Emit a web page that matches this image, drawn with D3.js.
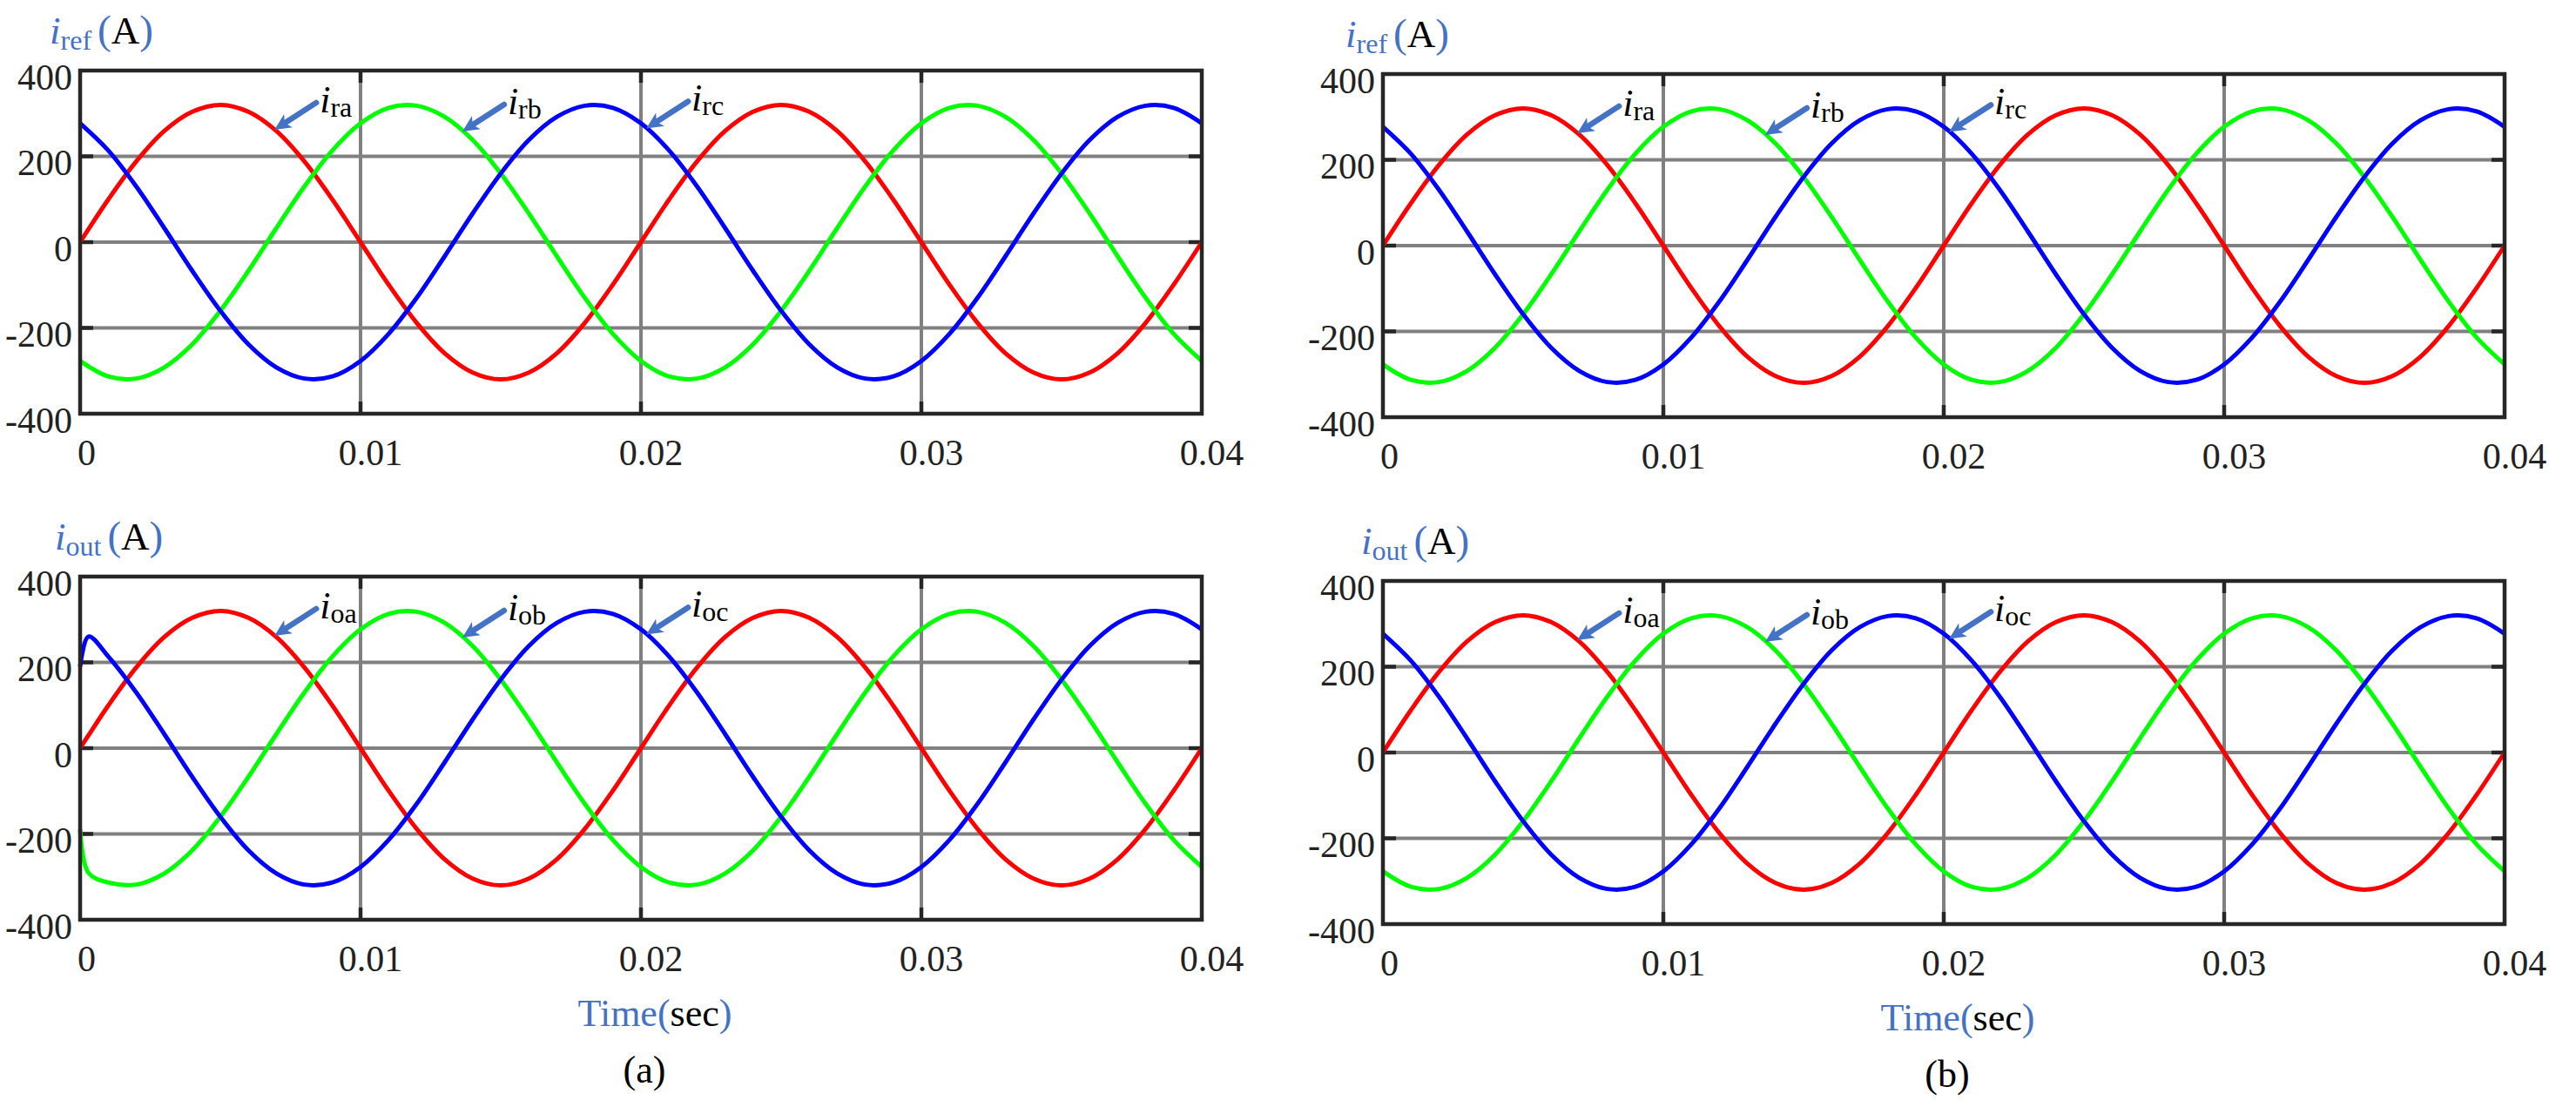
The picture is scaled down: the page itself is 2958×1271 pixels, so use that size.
<!DOCTYPE html>
<html>
<head>
<meta charset="utf-8">
<script src="https://cdn.jsdelivr.net/npm/d3@7"></script>
<style>
  body { margin: 0; background: #fff; }
  svg { display: block; background: #fff; }
  text { font-family: "Liberation Serif", "Times New Roman", serif; }
</style>
</head>
<body>
<svg id="canvas" width="2958" height="1271"></svg>
<script>
// sample times in ms (axis shows seconds)
const timeMs = [0,1,2,3,4,5,6,7,8,9,10,11,12,13,14,15,16,17,18,19,20,21,22,23,24,25,26,27,28,29,30,31,32,33,34,35,36,37,38,39,40];

// reference currents (A)
const refA = [0,99,188,259,304,320,304,259,188,99,0,-99,-188,-259,-304,-320,-304,-259,-188,-99,0,99,188,259,304,320,304,259,188,99,0,-99,-188,-259,-304,-320,-304,-259,-188,-99,0];
const refB = [-277,-313,-318,-292,-238,-160,-67,33,130,214,277,313,318,292,238,160,67,-33,-130,-214,-277,-313,-318,-292,-238,-160,-67,33,130,214,277,313,318,292,238,160,67,-33,-130,-214,-277];
const refC = [277,214,130,33,-67,-160,-238,-292,-318,-313,-277,-214,-130,-33,67,160,238,292,318,313,277,214,130,33,-67,-160,-238,-292,-318,-313,-277,-214,-130,-33,67,160,238,292,318,313,277];

// output currents of case (a): start-up step in the first 0.3 ms
const timeOutMs = [0,0.3,1,2,3,4,5,6,7,8,9,10,11,12,13,14,15,16,17,18,19,20,21,22,23,24,25,26,27,28,29,30,31,32,33,34,35,36,37,38,39,40];
const outA = [0,30,99,188,259,304,320,304,259,188,99,0,-99,-188,-259,-304,-320,-304,-259,-188,-99,0,99,188,259,304,320,304,259,188,99,0,-99,-188,-259,-304,-320,-304,-259,-188,-99,0];
const outB = [-190,-291,-313,-318,-292,-238,-160,-67,33,130,214,277,313,318,292,238,160,67,-33,-130,-214,-277,-313,-318,-292,-238,-160,-67,33,130,214,277,313,318,292,238,160,67,-33,-130,-214,-277];
const outC = [190,260,214,130,33,-67,-160,-238,-292,-318,-313,-277,-214,-130,-33,67,160,238,292,318,313,277,214,130,33,-67,-160,-238,-292,-318,-313,-277,-214,-130,-33,67,160,238,292,318,313,277];

const yTicks = [-400, -200, 0, 200, 400];
const yTickLabels = ['-400', '-200', '0', '200', '400'];
const yGrid = [-200, 0, 200];
const xTicks = [0, 10, 20, 30, 40];
const xGrid = [10, 20, 30];
const xTickLabels = ['0', '0.01', '0.02', '0.03', '0.04'];

const refNames = ['ra', 'rb', 'rc'];
const outNames = ['oa', 'ob', 'oc'];
const arrowTimesMs = [6.93, 13.63, 20.19];

const svg = d3.select('#canvas');
const accent = '#4472C4';
const ink = '#262626';
const serif = 'Liberation Serif, Times New Roman, serif';
const lineColors = ['#ff0000', '#00ff00', '#0000ff'];
const panelWidth = 1288;

const panels = [
  { left: 92, top: 81, bottom: 475, times: timeMs, series: [refA, refB, refC], sub: 'ref', names: refNames, titleDx: -35, caption: null },
  { left: 92, top: 662, bottom: 1056, times: timeOutMs, series: [outA, outB, outC], sub: 'out', names: outNames, titleDx: -29, caption: '(a)' },
  { left: 1588, top: 85, bottom: 479, times: timeMs, series: [refA, refB, refC], sub: 'ref', names: refNames, titleDx: -43, caption: null },
  { left: 1588, top: 667, bottom: 1061, times: timeMs, series: [refA, refB, refC], sub: 'out', names: outNames, titleDx: -25, caption: '(b)' }
];

const valueAt = (times, vals, t) => {
  const i = Math.min(d3.bisectRight(times, t) - 1, times.length - 2);
  const f = (t - times[i]) / (times[i + 1] - times[i]);
  return vals[i] + f * (vals[i + 1] - vals[i]);
};

const drawPanel = (p) => {
  const right = p.left + panelWidth;
  const x = d3.scaleLinear().domain([0, 40]).range([p.left, right]);
  const y = d3.scaleLinear().domain([-400, 400]).range([p.bottom, p.top]);
  const g = svg.append('g');

  // grid
  g.selectAll('.hgrid').data(yGrid).enter().append('line')
    .attr('x1', p.left).attr('x2', right)
    .attr('y1', (d) => y(d)).attr('y2', (d) => y(d))
    .attr('stroke', '#808080').attr('stroke-width', 4);
  g.selectAll('.vgrid').data(xGrid).enter().append('line')
    .attr('x1', (d) => x(d)).attr('x2', (d) => x(d))
    .attr('y1', p.top).attr('y2', p.bottom)
    .attr('stroke', '#808080').attr('stroke-width', 4);

  // short black ticks on the frame
  [[p.left, p.left + 15], [right - 15, right]].forEach(([a, b]) => {
    g.selectAll(null).data(yGrid).enter().append('line')
      .attr('x1', a).attr('x2', b)
      .attr('y1', (d) => y(d)).attr('y2', (d) => y(d))
      .attr('stroke', ink).attr('stroke-width', 4.5);
  });
  [[p.top, p.top + 14], [p.bottom - 14, p.bottom]].forEach(([a, b]) => {
    g.selectAll(null).data(xGrid).enter().append('line')
      .attr('x1', (d) => x(d)).attr('x2', (d) => x(d))
      .attr('y1', a).attr('y2', b)
      .attr('stroke', ink).attr('stroke-width', 4.5);
  });

  // curves
  const line = d3.line()
    .x((d) => x(d[0]))
    .y((d) => y(d[1]))
    .curve(d3.curveCatmullRom.alpha(0.5));
  p.series.forEach((vals, k) => {
    g.append('path')
      .datum(p.times.map((t, i) => [t, vals[i]]))
      .attr('d', line)
      .attr('fill', 'none')
      .attr('stroke', lineColors[k])
      .attr('stroke-width', 5)
      .attr('stroke-linejoin', 'round');
  });

  // frame
  g.append('rect')
    .attr('x', p.left).attr('y', p.top)
    .attr('width', panelWidth).attr('height', p.bottom - p.top)
    .attr('fill', 'none').attr('stroke', ink).attr('stroke-width', 4.5);

  // axes labels
  const yAxis = g.append('g')
    .attr('transform', `translate(${p.left},0)`)
    .call(d3.axisLeft(y).tickValues(yTicks).tickFormat((d, i) => yTickLabels[i]).tickSize(0).tickPadding(9))
    .attr('font-family', serif)
    .attr('font-size', 42);
  yAxis.select('.domain').remove();
  yAxis.selectAll('text')
    .attr('dy', '0.5em')
    .attr('font-family', serif)
    .style('font-family', serif)
    .attr('fill', '#222');

  const xAxis = g.append('g')
    .attr('transform', `translate(0,${p.bottom})`)
    .call(d3.axisBottom(x).tickValues(xTicks).tickFormat((d, i) => xTickLabels[i]).tickSize(0).tickPadding(29))
    .attr('font-family', serif)
    .attr('font-size', 42);
  xAxis.select('.domain').remove();
  xAxis.selectAll('text')
    .attr('dx', (d) => (d === 0 ? 7 : 11))
    .attr('font-family', serif)
    .style('font-family', serif)
    .attr('fill', '#222');

  // panel title
  const title = g.append('text')
    .attr('x', p.left + p.titleDx)
    .attr('y', p.top - 31)
    .attr('fill', accent)
    .style('font-size', '45px');
  title.append('tspan').attr('font-style', 'italic').text('i');
  title.append('tspan').attr('dy', 7).style('font-size', '32px').text(p.sub);
  title.append('tspan').attr('dy', -7).attr('dx', 7).style('font-size', '47px').text('(');
  title.append('tspan').attr('fill', '#000').text('A');
  title.append('tspan').style('font-size', '47px').text(')');

  // arrows pointing to the phases
  arrowTimesMs.forEach((tm, k) => {
    const tx = x(tm);
    const ty = y(valueAt(p.times, p.series[k], tm));
    const ax = tx + 48;
    const ay = ty - 31;
    const len = Math.hypot(ax - tx, ay - ty);
    const ux = (tx - ax) / len;
    const uy = (ty - ay) / len;
    const bx = tx - ux * 19;
    const by = ty - uy * 19;
    g.append('line')
      .attr('x1', ax).attr('y1', ay).attr('x2', bx + ux * 3).attr('y2', by + uy * 3)
      .attr('stroke', accent).attr('stroke-width', 6.5).attr('stroke-linecap', 'round');
    g.append('path')
      .attr('d', `M${tx},${ty}L${bx - uy * 9},${by + ux * 9}L${bx + ux * 5},${by + uy * 5}L${bx + uy * 9},${by - ux * 9}Z`)
      .attr('fill', accent);
    const lab = g.append('text')
      .attr('x', ax + 4).attr('y', ay + 11)
      .attr('fill', '#000')
      .style('font-size', '44px');
    lab.append('tspan').attr('font-style', 'italic').text('i');
    lab.append('tspan').attr('dy', 5).style('font-size', '32px').text(p.names[k]);
  });

  // captions under the lower panels
  if (p.caption) {
    const cx = p.left + panelWidth / 2;
    const tl = g.append('text')
      .attr('x', cx + 16).attr('y', p.bottom + 122)
      .attr('text-anchor', 'middle')
      .attr('fill', accent)
      .style('font-size', '44px');
    tl.append('tspan').text('Time(');
    tl.append('tspan').attr('fill', '#000').text('sec');
    tl.append('tspan').text(')');
    g.append('text')
      .attr('x', cx + 4).attr('y', p.bottom + 187)
      .attr('text-anchor', 'middle')
      .attr('fill', '#000')
      .style('font-size', '44px')
      .text(p.caption);
  }
};

panels.forEach(drawPanel);
</script>
</body>
</html>
